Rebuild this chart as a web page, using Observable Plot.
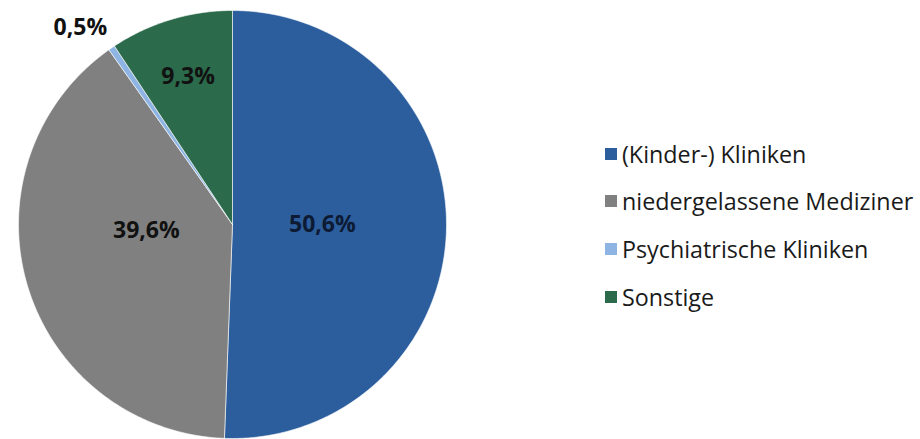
<!DOCTYPE html>
<html><head><meta charset="utf-8">
<script src="https://cdn.jsdelivr.net/npm/d3@7"></script>
<script src="https://cdn.jsdelivr.net/npm/@observablehq/plot@0.6"></script>
<style>
html,body{margin:0;padding:0;background:#fff;}
#wrap{position:relative;width:920px;height:439px;overflow:hidden;}
#legend{position:absolute;left:605px;top:130px;font-family:"Open Sans",sans-serif;font-size:23.3px;color:#1a1a1a;}
#legend .row{display:flex;align-items:center;height:47.6px;white-space:nowrap;}
#legend .sw{width:12px;height:12px;margin-right:5px;flex:none;}
</style>
</head><body>
<div id="wrap"><div id="chart"></div><div id="legend"></div></div>
<script>
const categories = ["(Kinder-) Kliniken", "niedergelassene Mediziner", "Psychiatrische Kliniken", "Sonstige"];
const values = [50.6, 39.6, 0.5, 9.3];
const labels = ["50,6%", "39,6%", "0,5%", "9,3%"];
const colors = ["#2c5e9e", "#808080", "#8db4e2", "#2b6a4b"];
const labelColors = ["#0c1a33", "#111111", "#111111", "#111111"];

const pie = d3.pie().sort(null).value(d => d)(values);
const polys = [];
const labs = [];
pie.forEach((p, i) => {
  const n = Math.max(2, Math.ceil((p.endAngle - p.startAngle) * 80));
  polys.push({cat: categories[i], x: 0, y: 0});
  for (let k = 0; k <= n; k++) {
    const a = p.startAngle + (p.endAngle - p.startAngle) * k / n;
    polys.push({cat: categories[i], x: Math.sin(a), y: Math.cos(a)});
  }
  polys.push({cat: categories[i], x: 0, y: 0});
  // best-fit style label placement
  const v = values[i];
  const mid = (p.startAngle + p.endAngle) / 2;
  let lx, ly, outside = false;
  if (v > 30) { lx = 0.42 * Math.sin(mid); ly = 0.42 * Math.cos(mid) * 0.25; }
  else if (v >= 1) { lx = 0.72 * Math.sin(mid); ly = 0.72 * Math.cos(mid); }
  else { lx = 1.16 * Math.sin(mid); ly = 1.16 * Math.cos(mid); outside = true; }
  labs.push({text: labels[i], x: lx, y: ly, c: labelColors[i], outside});
});

const chart = Plot.plot({
  width: 920, height: 439,
  margin: 0,
  x: {domain: [-1, 1], range: [18, 446], axis: null},
  y: {domain: [-1, 1], range: [438, 10], axis: null},
  color: {domain: categories, range: colors},
  marks: [
    Plot.line(polys, {x: "x", y: "y", z: "cat", fill: "cat", stroke: "#ffffff", strokeWidth: 0.6, curve: "linear"}),
    Plot.text(labs.filter(d => !d.outside), {x: "x", y: "y", text: "text", fill: d => d.c, fontSize: 23, fontWeight: "bold", fontFamily: "Open Sans, sans-serif"}),
    Plot.text(labs.filter(d => d.outside), {x: "x", y: "y", text: "text", fill: d => d.c, dx: -12, dy: 8, fontSize: 23, fontWeight: "bold", fontFamily: "Open Sans, sans-serif"})
  ]
});
document.getElementById("chart").appendChild(chart);

const leg = document.getElementById("legend");
categories.forEach((c, i) => {
  const row = document.createElement("div");
  row.className = "row";
  const sw = document.createElement("span");
  sw.className = "sw"; sw.style.background = colors[i];
  const t = document.createElement("span");
  t.textContent = c;
  row.appendChild(sw); row.appendChild(t);
  leg.appendChild(row);
});
</script>
</body></html>
